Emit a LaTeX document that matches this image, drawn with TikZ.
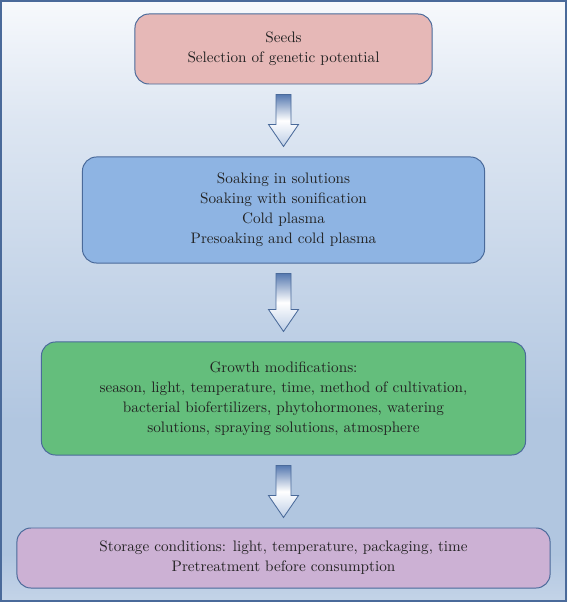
\documentclass[tikz,border=0pt]{standalone}
\usetikzlibrary{calc}
\definecolor{framecol}{HTML}{4A6A9A}
\definecolor{seedcol}{HTML}{E6B8B7}
\definecolor{soakcol}{HTML}{8EB4E3}
\definecolor{growcol}{HTML}{64BE7C}
\definecolor{storecol}{HTML}{CCB1D4}
\definecolor{txtcol}{HTML}{222222}
\definecolor{bgtop}{HTML}{F7F9FC}
\definecolor{bgmid}{HTML}{DDE6F2}
\definecolor{bglow}{HTML}{B1C6E0}
\definecolor{bgbot}{HTML}{C4D4E8}
\definecolor{arrtop}{HTML}{5679B0}
\definecolor{arrbot}{HTML}{BCCDE6}
\pgfdeclareverticalshading{bgshade}{100bp}{color(0bp)=(bgbot); color(25bp)=(bgbot); color(29bp)=(bglow); color(40bp)=(bglow); color(65bp)=(bgmid); color(75bp)=(bgtop); color(100bp)=(bgtop)}
\tikzset{
  stage/.style={draw=framecol, line width=0.7pt, rounded corners=0.35cm,
    align=center, text=txtcol, font=\fontsize{10.8}{14.2}\selectfont},
  blockarrow/.style={draw=framecol, line width=0.6pt, line join=miter,
    top color=arrtop, bottom color=arrbot, middle color=white}
}
\begin{document}
\begin{tikzpicture}[x=0.025cm,y=-0.025cm]
  \useasboundingbox (0,0) rectangle (567,602);
  \shade[shading=bgshade] (0,0) rectangle (567,602);
  \draw[framecol, line width=1.2pt] (1,1) rectangle (566,601);
  % stages
  \node[stage, fill=seedcol, minimum width=7.425cm, minimum height=1.75cm] (seeds) at (283.5,49)
    {Seeds\\Selection of genetic potential};
  \node[stage, fill=soakcol, minimum width=10.05cm, minimum height=2.65cm] (soak) at (283.5,210)
    {Soaking in solutions\\Soaking with sonification\\Cold plasma\\Presoaking and cold plasma};
  \node[stage, fill=growcol, minimum width=12.1cm, minimum height=2.825cm] (grow) at (283.5,398.5)
    {Growth modifications:\\season, light, temperature, time, method of cultivation,\\bacterial biofertilizers, phytohormones, watering\\solutions, spraying solutions, atmosphere};
  \node[stage, fill=storecol, minimum width=13.325cm, minimum height=1.5cm] (store) at (283.5,558)
    {Storage conditions: light, temperature, packaging, time\\Pretreatment before consumption};
  % arrows
  \foreach \a/\b in {seeds/soak, soak/grow, grow/store}
    \draw[blockarrow] ($(\a.south)+(-7.5,10)$) -- ($(\b.north)+(-7.5,-32)$)
      -- ($(\b.north)+(-15,-32)$) -- ($(\b.north)+(0,-10)$) -- ($(\b.north)+(15,-32)$)
      -- ($(\b.north)+(7.5,-32)$) -- ($(\a.south)+(7.5,10)$) -- cycle;
\end{tikzpicture}
\end{document}
